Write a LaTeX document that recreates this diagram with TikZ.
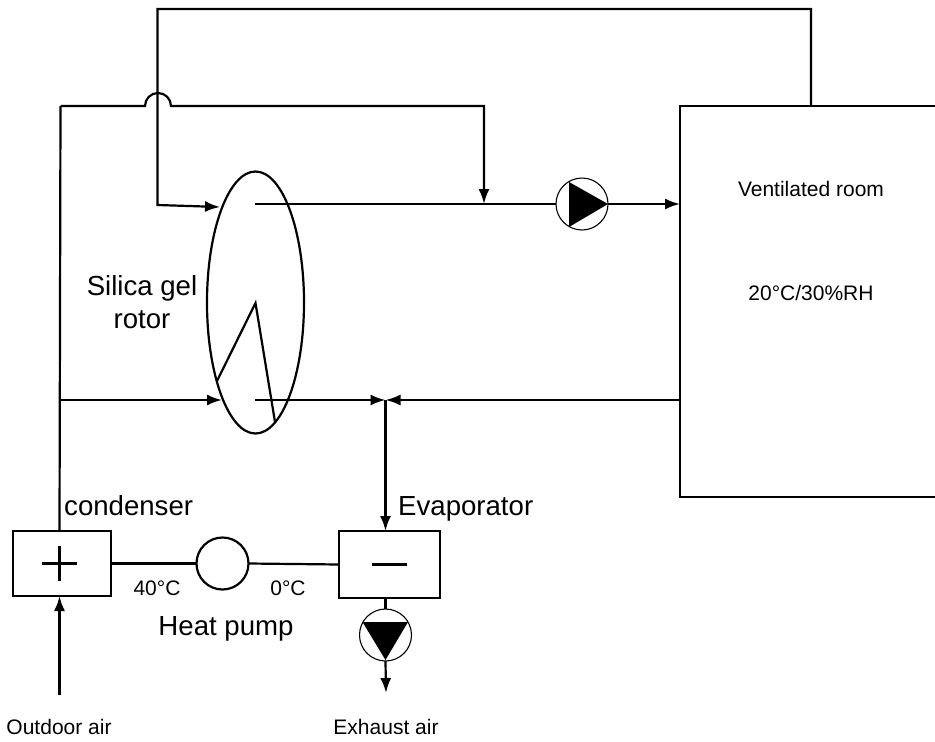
\documentclass[tikz,border=0pt]{standalone}
\usepackage{fontspec}
\setmainfont{Liberation Sans}
\usetikzlibrary{arrows.meta,shapes.geometric}
\tikzset{
  pipe/.style = {line width=2.2pt},
  flow/.style = {pipe, -{Latex[length=15pt,width=11pt]}},
  unit/.style = {draw, line width=2.4pt, rectangle, inner sep=0pt, outer sep=0pt},
  fanwheel/.style = {draw, circle, line width=1.1pt, minimum size=52pt, inner sep=0pt, outer sep=0pt},
  bigtext/.style = {font=\fontsize{27.6}{33}\selectfont, inner sep=0pt, align=center},
  smalltext/.style = {font=\fontsize{21}{25}\selectfont, inner sep=0pt}
}
\begin{document}
\begin{tikzpicture}[x=1pt,y=-1pt]
\useasboundingbox (0,0) rectangle (935,742);
\node[unit, minimum width=270pt, minimum height=391pt] (room) at (815,301.5) {};
\node[draw, ellipse, line width=2.2pt, minimum width=97pt, minimum height=262pt, inner sep=0pt, outer sep=0pt] (rotor) at (255.5,302.5) {};
\node[unit, minimum width=98pt, minimum height=65pt] (condenser) at (62,563.5) {};
\node[unit, minimum width=101pt, minimum height=67pt] (evaporator) at (389.5,564.5) {};
\node[draw, circle, line width=2.2pt, minimum size=52pt, inner sep=0pt, outer sep=0pt] (heatpump) at (222.5,563.5) {};
\node[fanwheel] (supplyfan) at (582,204) {};
\node[fanwheel] (exhaustfan) at (385.5,635) {};
\coordinate (hub) at (255.5,303);
\coordinate (sectorA) at (217,381);
\coordinate (sectorB) at (275,422);
\coordinate (supplystart) at (255,204);
\coordinate (returnstart) at (255,400);
\coordinate (regenin) at (222,400);
\coordinate (supplyjoin) at (484,204);
\coordinate (mix) at (385.5,400);
\coordinate (branch) at (60.5,400);
\coordinate (corner) at (60.5,106);
\coordinate (bumpin) at (145,106);
\coordinate (inlet) at (220,207);
\coordinate (roomout) at (811,106);
\coordinate (condenserin) at (59.5,531);
\coordinate (outdoor) at (59.5,695);
\coordinate (exhaust) at (386,693);
% rotor
\draw[pipe] (sectorA) -- (hub) -- (sectorB);
\draw[flow] (branch) -- (regenin);
% supply side
\draw[pipe] (supplystart) -- (supplyfan.west);
\draw[flow] (supplyfan.east) -- (room.west |- supplyfan);
\draw[flow] (corner) -- (bumpin) arc[start angle=180, end angle=360, radius=13] -- (484,106) -- (supplyjoin);
\draw[flow] (roomout) -- (811,9) -- (157.5,9) -- (157.5,205) -- (inlet);
% return side
\draw[flow] (returnstart) -- (mix);
\draw[flow] (room.west |- mix) -- (mix);
\draw[flow] (mix) -- (evaporator.north -| mix);
\draw[pipe] (corner) -- (condenserin);
% heat pump
\draw[pipe] (condenser.east) -- (heatpump.west);
\draw[pipe] (heatpump.east) -- (evaporator.west);
\draw[pipe] (42,563.5) -- (77,563.5) (59.5,546) -- (59.5,581);
\draw[pipe] (372,564.5) -- (407,564.5);
\draw[flow] (outdoor) -- (condenser.south -| outdoor);
\draw[pipe] (evaporator.south -| exhaustfan) -- (exhaustfan.north);
\draw[flow] (exhaustfan.south) -- (exhaust);
% fan blades
\fill (569,182) -- (608,204) -- (569,227) -- cycle;
\fill (362.5,622) -- (408,622) -- (385.5,660) -- cycle;
% labels
\node[smalltext] (roomname) at (811,189) {Ventilated room};
\node[smalltext] (roomstate) at (811,293) {20°C/30\%RH};
\node[bigtext] (rotorname) at (142,302.5) {Silica gel\\rotor};
\node[bigtext, anchor=base west] (condensername) at (64,515) {condenser};
\node[bigtext, anchor=base west] (evaporatorname) at (398,515) {Evaporator};
\node[smalltext] (hottemp) at (157,588) {40°C};
\node[smalltext] (coldtemp) at (288,588) {0°C};
\node[bigtext] (heatpumpname) at (226,629) {Heat pump};
\node[smalltext] (outdoorname) at (59,727) {Outdoor air};
\node[smalltext] (exhaustname) at (386,727) {Exhaust air};
\end{tikzpicture}
\end{document}
